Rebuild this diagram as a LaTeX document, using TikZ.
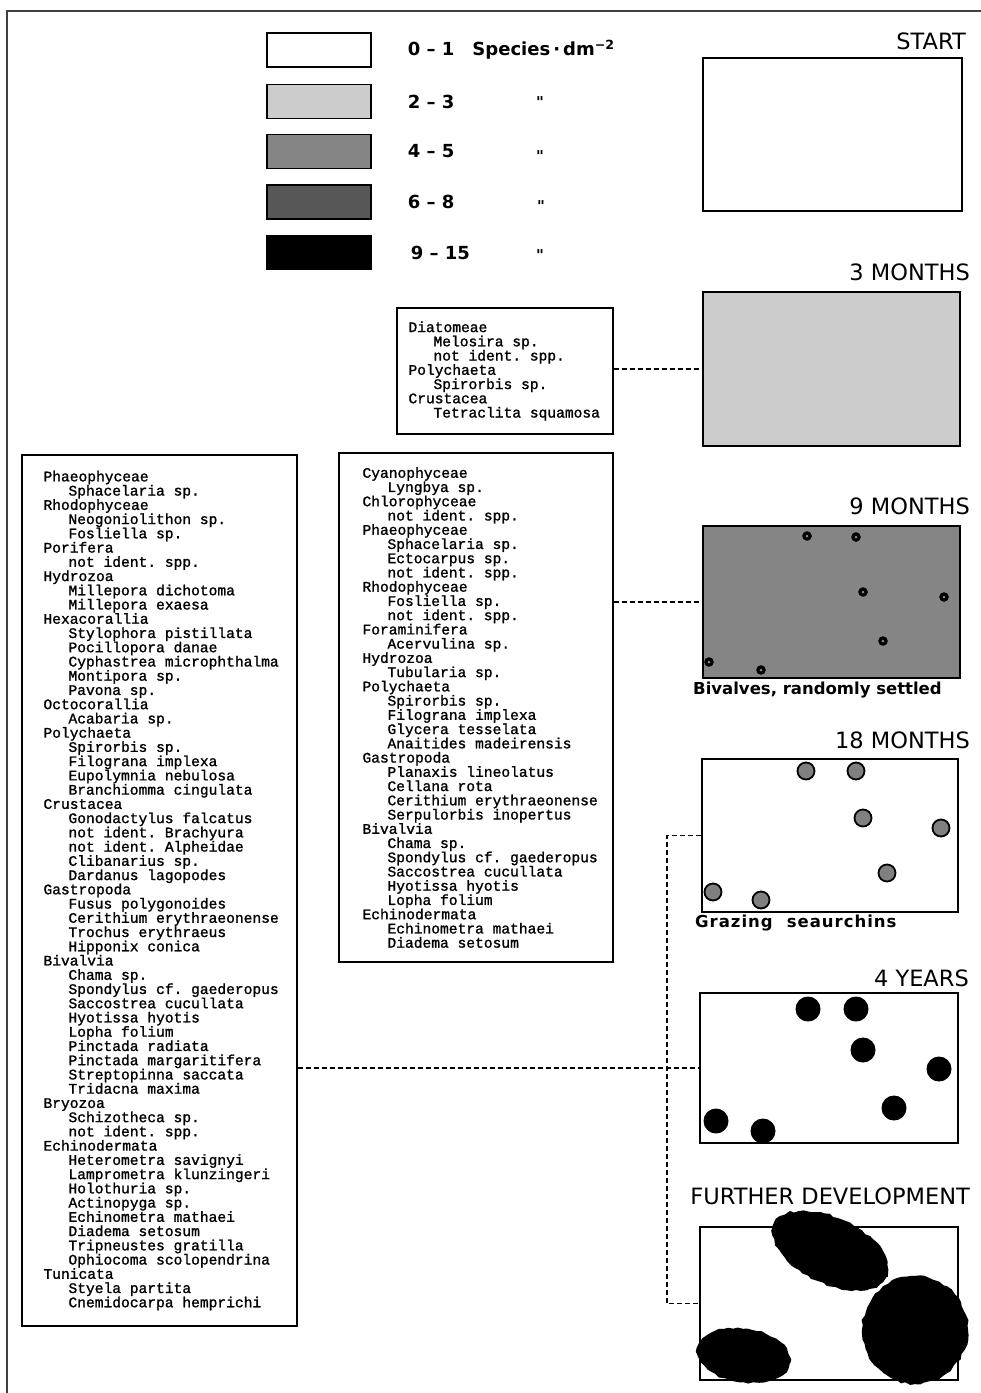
\documentclass[tikz,border=0pt]{standalone}
\usepackage{fontspec}
\setmainfont{DejaVu Sans}
\setsansfont{DejaVu Sans}
\setmonofont{Liberation Mono}[FakeBold=1.3,UprightFeatures={FakeBold=1.3}]
\newfontfamily\spacedfont{DejaVu Sans}[LetterSpace=6]
\newfontfamily\dittofont{DejaVu Sans}
\usetikzlibrary{positioning,calc,decorations.pathmorphing}
\definecolor{dens2}{gray}{0.80}
\definecolor{dens3}{gray}{0.52}
\definecolor{dens4}{gray}{0.34}
\newcommand{\taxon}[1]{\hspace*{25pt}#1}
\newcommand{\listfont}{\ttfamily\fontsize{14.6pt}{14.24pt}\selectfont}

\begin{document}
\begin{tikzpicture}[x=1pt,y=-1pt, every node/.style={inner sep=0pt},
  panel/.style={draw,line width=1.6pt},
  legbox/.style={draw,line width=1.4pt,minimum width=104pt,minimum height=34pt},
  listbox/.style={draw,line width=1.4pt},
  listtext/.style={font=\listfont,align=left},
  ttl/.style={font=\fontsize{22.5pt}{24pt}\selectfont,anchor=east},
  note/.style={font=\bfseries\fontsize{16.5pt}{18pt}\selectfont,anchor=west},
  legtext/.style={font=\bfseries\fontsize{18pt}{20pt}\selectfont},
  ditto/.style={font=\dittofont\bfseries\fontsize{15pt}{17pt}\selectfont},
  dashline/.style={line width=1.8pt,dash pattern=on 5pt off 3pt},
  blob/.style={fill=black,decorate,decoration={random steps,segment length=5pt,amplitude=1.2pt}}]
  \useasboundingbox (0,0) rectangle (981,1393);
  \draw[line width=1.4pt,black!75] (7,1393) -- (7,11) -- (981,11);

  % legend
  \node[legbox] (leg1) at (319,50) {};
  \node[legbox,fill=dens2] (leg2) at (319,101.5) {};
  \node[legbox,fill=dens3] (leg3) at (319,151.5) {};
  \node[legbox,fill=dens4] (leg4) at (319,202) {};
  \node[legbox,fill=black] (leg5) at (319,252.5) {};
  \node[legtext,right=36pt of leg1] (lt1) {0 -- 1\hspace{18pt}Species\,·\,dm\textsuperscript{−2}};
  \node[legtext,right=36pt of leg2] (lt2) {2 -- 3};
  \node[legtext,right=36pt of leg3] (lt3) {4 -- 5};
  \node[legtext,right=36pt of leg4] (lt4) {6 -- 8};
  \node[legtext,right=39pt of leg5] (lt5) {9 -- 15};
  \node[ditto] (dit2) at (540,102) {"};
  \node[ditto] (dit3) at (540,156) {"};
  \node[ditto] (dit4) at (541,206) {"};
  \node[ditto] (dit5) at (540,255) {"};

  % panels
  \node[panel,minimum width=259pt,minimum height=153pt] (start) at (832.5,134.5) {};
  \node[panel,fill=dens2,minimum width=257pt,minimum height=154pt] (m3) at (831.5,369) {};
  \node[panel,fill=dens3,minimum width=257pt,minimum height=152pt] (m9) at (831.5,602) {};
  \node[panel,minimum width=256pt,minimum height=153pt] (m18) at (830,835.5) {};
  \node[panel,minimum width=258pt,minimum height=150pt] (y4) at (829,1068) {};
  \node[panel,minimum width=258pt,minimum height=153pt] (further) at (829,1303.5) {};

  \node[ttl] (tstart) at (966,41) {START};
  \node[ttl] (tm3) at (970,272) {3 MONTHS};
  \node[ttl] (tm9) at (970,506) {9 MONTHS};
  \node[ttl] (tm18) at (970,740) {18 MONTHS};
  \node[ttl] (ty4) at (969,978) {4 YEARS};
  \node[ttl] (tfurther) at (970,1196) {FURTHER DEVELOPMENT};

  \node[note] (nbiv) at (693,690) {Bivalves, randomly settled};
  \node[note] (ngraz) at (695,923) {\spacedfont\bfseries Grazing\hspace{14pt}seaurchins};

  % settlers
  \foreach \px/\py in {807/536,856/537,863/592,944/597,883/641,709/662,761/670}{
    \fill (\px,\py) circle[radius=4.8];
    \fill[dens3] (\px,\py) circle[radius=1.5];
  }
  \foreach \px/\py in {806/771,856/771,863/818,941/828,887/873,713/892,761/900}
    \filldraw[fill=black!50,line width=1.8pt] (\px,\py) circle[radius=8.5];
  \foreach \px/\py in {808/1009,856/1009,863/1050,939/1069,894/1108,716/1121,763/1131}
    \fill (\px,\py) circle[radius=12.5];
  \path[blob,rotate around={-25:(830.5,1250.5)}] (830.5,1250.5) ellipse[x radius=62,y radius=33];
  \path[blob] (915,1330) ellipse[x radius=53,y radius=54];
  \path[blob,rotate around={-9:(743.5,1355.5)}] (743.5,1355.5) ellipse[x radius=47,y radius=27];

  % species lists
  \node[listbox,minimum width=216pt,minimum height=126pt] (m3list) at (505,371) {};
  \node[listtext,right=12pt of m3list.west] (m3text) {Diatomeae\\
    \taxon{Melosira sp.}\\
    \taxon{not ident. spp.}\\
    Polychaeta\\
    \taxon{Spirorbis sp.}\\
    Crustacea\\
    \taxon{Tetraclita squamosa}};

  \node[listbox,minimum width=274pt,minimum height=509pt] (midlist) at (476,707.5) {};
  \node[listtext,right=24pt of midlist.west] (midtext) {Cyanophyceae\\
    \taxon{Lyngbya sp.}\\
    Chlorophyceae\\
    \taxon{not ident. spp.}\\
    Phaeophyceae\\
    \taxon{Sphacelaria sp.}\\
    \taxon{Ectocarpus sp.}\\
    \taxon{not ident. spp.}\\
    Rhodophyceae\\
    \taxon{Fosliella sp.}\\
    \taxon{not ident. spp.}\\
    Foraminifera\\
    \taxon{Acervulina sp.}\\
    Hydrozoa\\
    \taxon{Tubularia sp.}\\
    Polychaeta\\
    \taxon{Spirorbis sp.}\\
    \taxon{Filograna implexa}\\
    \taxon{Glycera tesselata}\\
    \taxon{Anaitides madeirensis}\\
    Gastropoda\\
    \taxon{Planaxis lineolatus}\\
    \taxon{Cellana rota}\\
    \taxon{Cerithium erythraeonense}\\
    \taxon{Serpulorbis inopertus}\\
    Bivalvia\\
    \taxon{Chama sp.}\\
    \taxon{Spondylus cf. gaederopus}\\
    \taxon{Saccostrea cucullata}\\
    \taxon{Hyotissa hyotis}\\
    \taxon{Lopha folium}\\
    Echinodermata\\
    \taxon{Echinometra mathaei}\\
    \taxon{Diadema setosum}};

  \node[listbox,minimum width=275pt,minimum height=871pt] (leftlist) at (159.5,890.5) {};
  \node[listtext,right=22pt of leftlist.west] (lefttext) {Phaeophyceae\\
    \taxon{Sphacelaria sp.}\\
    Rhodophyceae\\
    \taxon{Neogoniolithon sp.}\\
    \taxon{Fosliella sp.}\\
    Porifera\\
    \taxon{not ident. spp.}\\
    Hydrozoa\\
    \taxon{Millepora dichotoma}\\
    \taxon{Millepora exaesa}\\
    Hexacorallia\\
    \taxon{Stylophora pistillata}\\
    \taxon{Pocillopora danae}\\
    \taxon{Cyphastrea microphthalma}\\
    \taxon{Montipora sp.}\\
    \taxon{Pavona sp.}\\
    Octocorallia\\
    \taxon{Acabaria sp.}\\
    Polychaeta\\
    \taxon{Spirorbis sp.}\\
    \taxon{Filograna implexa}\\
    \taxon{Eupolymnia nebulosa}\\
    \taxon{Branchiomma cingulata}\\
    Crustacea\\
    \taxon{Gonodactylus falcatus}\\
    \taxon{not ident. Brachyura}\\
    \taxon{not ident. Alpheidae}\\
    \taxon{Clibanarius sp.}\\
    \taxon{Dardanus lagopodes}\\
    Gastropoda\\
    \taxon{Fusus polygonoides}\\
    \taxon{Cerithium erythraeonense}\\
    \taxon{Trochus erythraeus}\\
    \taxon{Hipponix conica}\\
    Bivalvia\\
    \taxon{Chama sp.}\\
    \taxon{Spondylus cf. gaederopus}\\
    \taxon{Saccostrea cucullata}\\
    \taxon{Hyotissa hyotis}\\
    \taxon{Lopha folium}\\
    \taxon{Pinctada radiata}\\
    \taxon{Pinctada margaritifera}\\
    \taxon{Streptopinna saccata}\\
    \taxon{Tridacna maxima}\\
    Bryozoa\\
    \taxon{Schizotheca sp.}\\
    \taxon{not ident. spp.}\\
    Echinodermata\\
    \taxon{Heterometra savignyi}\\
    \taxon{Lamprometra klunzingeri}\\
    \taxon{Holothuria sp.}\\
    \taxon{Actinopyga sp.}\\
    \taxon{Echinometra mathaei}\\
    \taxon{Diadema setosum}\\
    \taxon{Tripneustes gratilla}\\
    \taxon{Ophiocoma scolopendrina}\\
    Tunicata\\
    \taxon{Styela partita}\\
    \taxon{Cnemidocarpa hemprichi}};

  % links from lists to stages
  \draw[dashline] (m3list.east |- m3.west) -- (m3.west);
  \draw[dashline] (midlist.east |- m9.west) -- (m9.west);
  \draw[dashline] (leftlist.east |- y4.west) -- (y4.west);
  \draw[dashline] (m18.west) -- ++(-34,0) |- (further.west);
\end{tikzpicture}
\end{document}
